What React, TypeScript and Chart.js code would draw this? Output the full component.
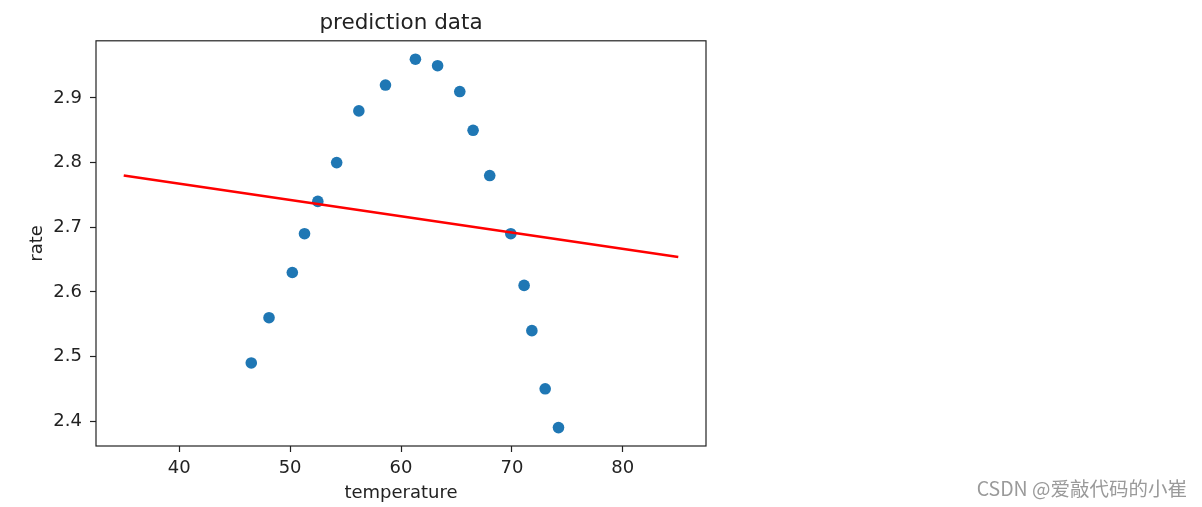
import React, { useEffect, useRef } from "react";
import { Chart, registerables } from "chart.js";

Chart.register(...registerables);

const temperature = [46.5, 48.1, 50.2, 51.3, 52.5, 54.2, 56.2, 58.6, 61.3, 63.3, 65.3, 66.5, 68.0, 69.9, 71.1, 71.8, 73.0, 74.2];
const rate = [2.49, 2.56, 2.63, 2.69, 2.74, 2.8, 2.88, 2.92, 2.96, 2.95, 2.91, 2.85, 2.78, 2.69, 2.61, 2.54, 2.45, 2.39];
const lineX = [35, 85];
const lineY = [2.78, 2.654];
const xTicks = [40, 50, 60, 70, 80];
const yTicks = [2.4, 2.5, 2.6, 2.7, 2.8, 2.9];

const FONT = "'DejaVu Sans', sans-serif";
const TEXT = "#222";

const boxPlugin = {
  id: "boxPlugin",
  afterDatasetsDraw(chart: any) {
    const { ctx, chartArea } = chart;
    ctx.save();
    ctx.strokeStyle = "#222";
    ctx.lineWidth = 1.2;
    ctx.strokeRect(chartArea.left, chartArea.top, chartArea.right - chartArea.left, chartArea.bottom - chartArea.top);
    ctx.restore();
  },
};

export default function App() {
  const ref = useRef<HTMLCanvasElement>(null);
  useEffect(() => {
    const canvas = ref.current!;
    const chart = new Chart(canvas, {
      type: "scatter",
      data: {
        datasets: [
          {
            type: "line",
            data: lineX.map((x, i) => ({ x, y: lineY[i] })),
            borderColor: "#ff0000",
            borderWidth: 2.5,
            pointRadius: 0,
            fill: false,
            order: 0,
          } as any,
          {
            type: "scatter",
            data: temperature.map((x, i) => ({ x, y: rate[i] })),
            backgroundColor: "#1f77b4",
            borderColor: "#1f77b4",
            borderWidth: 0,
            pointRadius: 5.8,
            order: 1,
          },
        ],
      },
      options: {
        animation: false,
        responsive: false,
        devicePixelRatio: 1,
        layout: { padding: { left: 0, right: 496, top: 0, bottom: 0 } },
        plugins: {
          legend: { display: false },
          tooltip: { enabled: false },
          title: {
            display: true,
            text: "prediction data",
            color: TEXT,
            fullSize: false,
            font: { family: FONT, size: 21.5, weight: "normal" },
            padding: { top: 11, bottom: 4 },
          } as any,
        },
        scales: {
          x: {
            type: "linear",
            min: 32.5,
            max: 87.5,
            afterBuildTicks: (s: any) => {
              s.ticks = xTicks.map((v) => ({ value: v }));
            },
            afterFit: (s: any) => {
              s.height = 61;
            },
            grid: { drawOnChartArea: false, drawTicks: true, tickLength: 6, color: "#222", tickWidth: 1.2 },
            border: { display: false },
            ticks: { color: TEXT, font: { family: FONT, size: 18 }, padding: 6, maxRotation: 0 },
            title: {
              display: true,
              text: "temperature",
              color: TEXT,
              font: { family: FONT, size: 18 },
              padding: { top: 0, bottom: 3 },
            },
          },
          y: {
            type: "linear",
            min: 2.3615,
            max: 2.9885,
            afterBuildTicks: (s: any) => {
              s.ticks = yTicks.map((v) => ({ value: v }));
            },
            afterFit: (s: any) => {
              s.width = 96;
            },
            grid: { drawOnChartArea: false, drawTicks: true, tickLength: 6, color: "#222", tickWidth: 1.2 },
            border: { display: false },
            ticks: {
              color: TEXT,
              font: { family: FONT, size: 18 },
              padding: 8,
              callback: (v: any) => Number(v).toFixed(1),
            },
            title: {
              display: true,
              text: "rate",
              color: TEXT,
              font: { family: FONT, size: 18 },
              padding: { top: 27, bottom: 0 },
            },
          },
        },
      },
      plugins: [boxPlugin],
    });
    return () => chart.destroy();
  }, []);

  return (
    <div style={{ position: "fixed", left: 0, top: 0, width: 1202, height: 507, background: "#fff" }}>
      <canvas ref={ref} width={1202} height={507} style={{ position: "absolute", left: 0, top: 0 }} />
      <div
        style={{
          position: "absolute",
          right: 15,
          top: 475,
          fontFamily: "'Noto Sans CJK SC', sans-serif",
          fontSize: 19.5,
          color: "#9a9a9a",
          whiteSpace: "nowrap",
          lineHeight: "26px",
        }}
      >
        CSDN @爱敲代码的小崔
      </div>
    </div>
  );
}
